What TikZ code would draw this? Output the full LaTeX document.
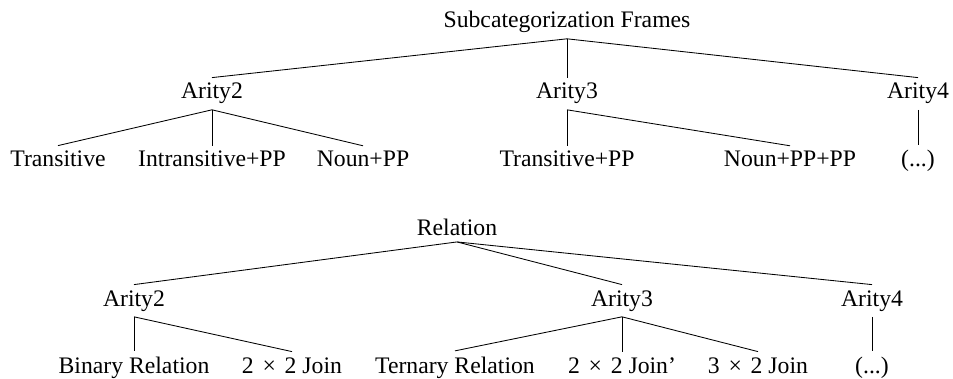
\documentclass[tikz,border=0pt]{standalone}
\usepackage{fontspec}
\setmainfont{Liberation Serif}
% multiplication sign with the wider spacing of a binary operator
\newcommand{\bytimes}{\hspace{0.37em}×\hspace{0.37em}}
\begin{document}
\begin{tikzpicture}[x=1pt,y=-1pt,
  lbl/.style={anchor=base, inner xsep=0pt, inner ysep=5.5pt,
              font=\fontsize{23.7}{28}\selectfont},
  edge/.style={draw=black, line width=0.85pt}]
\useasboundingbox (0,0) rectangle (953,379);

% Subcategorization frames tree
\node[lbl] (sf) at (567,28) {Subcategorization Frames};
\node[lbl] (a2) at (212,99) {Arity2};
\node[lbl] (a3) at (567,99) {Arity3};
\node[lbl] (a4) at (918,99) {Arity4};
\node[lbl] (tr)   at (58,167)  {Transitive};
\node[lbl] (itpp) at (212,167) {Intransitive+PP};
\node[lbl] (npp)  at (363,167) {Noun+PP};
\node[lbl] (trpp) at (567,167) {Transitive+PP};
\node[lbl] (nppp) at (790,167) {Noun+PP+PP};
\node[lbl] (d1)   at (918,167) {(...)};

\foreach \c in {a2,a3,a4} \draw[edge] (sf.south) -- (\c.north);
\foreach \c in {tr,itpp,npp} \draw[edge] (a2.south) -- (\c.north);
\foreach \c in {trpp,nppp} \draw[edge] (a3.south) -- (\c.north);
\draw[edge] (a4.south) -- (d1.north);

% Relation tree
\node[lbl] (rel) at (457,236) {Relation};
\node[lbl] (b2) at (134,306) {Arity2};
\node[lbl] (b3) at (622,306) {Arity3};
\node[lbl] (b4) at (872,306) {Arity4};
\node[lbl] (bin)  at (134,373) {Binary Relation};
\node[lbl] (j22)  at (292,373) {2\bytimes 2 Join};
\node[lbl] (ter)  at (455,373) {Ternary Relation};
\node[lbl] (j22p) at (622,373) {2\bytimes 2 Join'};
\node[lbl] (j32)  at (758,373) {3\bytimes 2 Join};
\node[lbl] (d2)   at (872,373) {(...)};

\foreach \c in {b2,b3,b4} \draw[edge] (rel.south) -- (\c.north);
\foreach \c in {bin,j22} \draw[edge] (b2.south) -- (\c.north);
\foreach \c in {ter,j22p,j32} \draw[edge] (b3.south) -- (\c.north);
\draw[edge] (b4.south) -- (d2.north);
\end{tikzpicture}
\end{document}
